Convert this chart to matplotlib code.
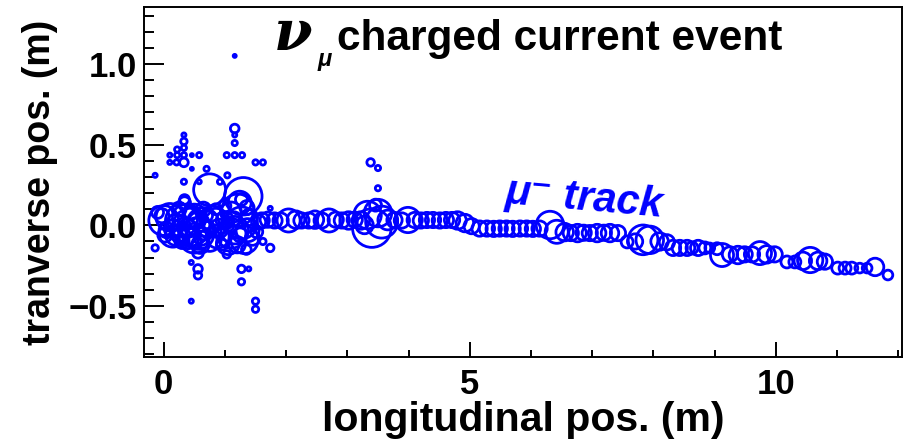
import matplotlib
matplotlib.use('Agg')
import matplotlib.pyplot as plt
import numpy as np
from matplotlib.ticker import MultipleLocator, FuncFormatter

# hits: longitudinal pos (m), transverse pos (m), deposited energy (arb.)
vtx_x = [-0.14, 0.33, 0.33, 0.33, 0.22, 0.10, 0.22, 0.33, 0.46, 0.58,
         0.10, 0.21, 0.33, 0.46, 0.70, 0.33, 0.58, 0.92, 1.04, 1.16,
         1.16, 1.16, 1.03, 1.16, 1.28, 1.50, 1.62, 1.74, 1.16, -0.14,
         0.45, 0.56, 0.56, 0.56, 0.45, 1.03, 1.27, 1.39, 1.27, 1.50,
         1.50, 1.62, 1.74,
         0.75, 1.30, 1.24, 0.00, 0.10, 0.29, 0.45, 0.56, 0.64, 0.34,
         0.75, 1.21, 1.27, 1.16, 1.32, 1.05, 1.37, 1.00, 0.88, -0.10,
         0.34, 1.27, -0.03, 0.34, 0.20, 0.50, 0.80, 0.90, 0.60, 0.15,
         0.40, 1.10, 1.40, 1.45, 0.70, 1.20, 0.50, 1.00, 0.25, 0.65,
         1.36, 0.02, 1.55, 1.52,
         0.05, 0.20, 0.30, 0.45, 0.55, 0.62, 0.38, 0.25, 0.70, 0.85,
         1.15, 1.25, 1.05, 0.95, 1.35,
         0.15, 0.50, 1.10, 0.85, 0.35]
vtx_y = [0.31, 0.56, 0.52, 0.48, 0.47, 0.435, 0.435, 0.435, 0.435, 0.435,
         0.39, 0.39, 0.39, 0.35, 0.35, 0.27, 0.27, 0.27, 0.31, 0.60,
         0.56, 0.51, 0.435, 0.435, 0.435, 0.39, 0.39, 0.105, 1.05, -0.14,
         -0.23, -0.17, -0.27, -0.31, -0.47, -0.18, -0.27, -0.27, -0.35, -0.47,
         -0.52, -0.10, -0.14,
         0.22, 0.18, 0.14, 0.03, 0.05, 0.03, -0.01, -0.05, 0.01, -0.04,
         -0.09, 0.095, 0.015, -0.03, -0.09, -0.11, -0.03, 0.03, -0.07, 0.08,
         0.14, 0.16, 0.06, 0.16, -0.06, 0.06, 0.04, -0.02, -0.12, -0.02,
         -0.08, 0.08, 0.05, -0.08, -0.02, -0.12, -0.10, 0.12, 0.10, 0.10,
         0.11, -0.06, 0.02, -0.04,
         -0.03, 0.02, -0.10, 0.08, 0.03, -0.08, -0.02, -0.05, 0.06, 0.10,
         0.04, -0.06, 0.00, -0.12, -0.15,
         -0.05, -0.08, -0.05, 0.02, 0.05]
vtx_e = [2.5, 2.5, 3.5, 3.0, 3.0, 2.5, 3.0, 3.0, 2.0, 3.0,
         2.5, 3.0, 4.5, 2.0, 3.0, 3.0, 2.5, 3.0, 3.0, 4.5,
         2.5, 3.0, 3.0, 3.0, 3.0, 3.0, 3.0, 2.5, 2.0, 3.5,
         2.5, 5.5, 4.5, 4.0, 2.5, 4.0, 4.0, 2.5, 3.5, 3.5,
         3.5, 3.5, 4.0,
         15.0, 17.5, 11.0, 14.0, 13.0, 15.0, 17.5, 15.0, 15.0, 13.0,
         11.0, 15.0, 15.0, 13.0, 13.0, 11.0, 11.0, 8.5, 11.0, 6.0,
         6.0, 6.0, 7.0, 5.0, 10.0, 11.0, 12.0, 9.0, 8.5, 8.5,
         10.0, 10.0, 8.0, 7.0, 8.0, 8.0, 7.0, 6.0, 7.0, 7.0,
         7.0, 7.0, 7.0, 6.0,
         7.5, 8.0, 7.0, 7.0, 8.0, 7.0, 9.0, 8.0, 6.0, 5.5,
         7.0, 7.0, 6.0, 5.5, 5.0,
         13.0, 14.0, 14.0, 13.0, 12.0]

trk_x = [1.60, 1.70, 1.81, 1.91, 2.04, 2.16, 2.25, 2.37, 2.47, 2.58,
         2.70, 2.81, 2.91, 3.02, 3.12, 3.22,
         3.28, 3.33, 3.40, 3.50, 3.56, 3.46, 3.38, 3.50, 3.50,
         3.66, 3.77, 3.89, 3.99, 4.10, 4.20, 4.30, 4.40, 4.51, 4.61,
         4.71, 4.80, 4.92,
         5.03, 5.16, 5.28, 5.39, 5.49, 5.60, 5.70, 5.82, 5.93, 6.03,
         6.14, 6.31, 6.42, 6.55, 6.65, 6.76, 6.86, 6.96, 7.08, 7.19,
         7.29, 7.42,
         7.57, 7.70, 7.83, 7.94, 8.10, 8.22, 8.32, 8.43, 8.55, 8.63,
         8.73, 8.84, 8.92, 9.04, 9.12, 9.25, 9.38, 9.49, 9.61, 9.74,
         9.85, 9.98, 10.18, 10.31, 10.44, 10.56, 10.69, 10.80, 11.01, 11.13,
         11.24, 11.37, 11.49, 11.62, 11.83]
trk_y = [0.030, 0.035, 0.030, 0.030, 0.030, 0.035, 0.030, 0.030, 0.035, 0.030,
         0.030, 0.035, 0.030, 0.030, 0.035, 0.030,
         0.002, 0.064, -0.017, 0.076, 0.020, 0.125, 0.39, 0.355, 0.23,
         0.033, 0.033, 0.030, 0.033, 0.033, 0.030, 0.033, 0.033, 0.030, 0.033,
         0.033, 0.030, 0.014,
         -0.005, -0.020, -0.020, -0.022, -0.020, -0.020, -0.022, -0.020, -0.020, -0.022,
         -0.020, 0.002, -0.040, -0.042, -0.048, -0.048, -0.046, -0.048, -0.048, -0.046,
         -0.048, -0.048,
         -0.103, -0.100, -0.090, -0.090, -0.100, -0.105, -0.140, -0.140, -0.140, -0.140,
         -0.140, -0.140, -0.140, -0.145, -0.184, -0.180, -0.184, -0.180, -0.180, -0.172,
         -0.180, -0.180, -0.227, -0.227, -0.220, -0.215, -0.220, -0.225, -0.265, -0.265,
         -0.265, -0.265, -0.265, -0.258, -0.308]
trk_e = [7.5, 7.5, 7.5, 7.5, 11, 8.5, 7.5, 7.5, 8.5, 7.5,
         11, 7.5, 7.5, 8.5, 7.5, 8.5,
         8.5, 13, 18, 13, 15, 6, 4, 3, 3,
         9.5, 7.5, 7.5, 12, 7.5, 7.5, 7.5, 7.5, 7.5, 7.5,
         7.5, 8.5, 8.5,
         7.5, 7.5, 7.5, 7.5, 7.5, 7.5, 7.5, 7.5, 7.5, 7.5,
         7.5, 13, 11, 8.5, 7.5, 8.5, 7.5, 7.5, 8.5, 7.5,
         8.5, 7.5,
         6, 7.5, 14, 13, 8.5, 7.5, 7.5, 7.5, 7.5, 6,
         7.5, 6, 5, 6, 11, 7.5, 8.5, 7.5, 7.5, 11,
         8.5, 7.5, 6, 6, 8.5, 12, 8.5, 7.5, 6, 6,
         6, 5, 5, 8.5, 5]

hit_x = np.array(vtx_x + trk_x)
hit_y = np.array(vtx_y + trk_y)
hit_e = np.array(vtx_e + trk_e, dtype=float)

blue = '#0000ff'
plt.rcParams['font.family'] = ['Liberation Sans', 'DejaVu Sans']
plt.rcParams['font.weight'] = 'bold'

fig = plt.figure(figsize=(9.08, 4.44), dpi=100)
ax = fig.add_axes([143.5 / 908, 87 / 444, (902 - 143.5) / 908, (437 - 87) / 444])

# bubble diameter grows with the deposited energy
ms = hit_e * 2 * 0.80 - 1.0
ax.scatter(hit_x, hit_y, s=ms ** 2, facecolors='none', edgecolors=blue,
           linewidths=2.0, zorder=3)

ax.set_xlim(-0.33, 12.06)
ax.set_ylim(-0.816, 1.353)

ax.xaxis.set_major_locator(MultipleLocator(5))
ax.xaxis.set_minor_locator(MultipleLocator(1))
ax.yaxis.set_major_locator(MultipleLocator(0.5))
ax.yaxis.set_minor_locator(MultipleLocator(0.1))
ax.xaxis.set_major_formatter(FuncFormatter(lambda v, p: '%d' % round(v)))
ax.yaxis.set_major_formatter(
    FuncFormatter(lambda v, p: ('%.1f' % v).replace('-', '\u2212')))

ax.tick_params(axis='both', which='both', direction='in', width=1.4,
               top=False, right=False, labelsize=25)
ax.tick_params(axis='x', which='major', length=11, pad=8)
ax.tick_params(axis='x', which='minor', length=5)
ax.tick_params(axis='y', which='major', length=14.5, pad=5)
ax.tick_params(axis='y', which='minor', length=7)
for lab in ax.get_xticklabels() + ax.get_yticklabels():
    lab.set_fontweight('bold')
for sp in ax.spines.values():
    sp.set_linewidth(1.4)

ax.set_xlabel('longitudinal pos. (m)', fontsize=29.5, fontweight='bold', labelpad=0)
ax.set_ylabel('tranverse pos. (m)', fontsize=27, fontweight='bold', labelpad=7)

# event title
fig.text(274 / 908, 1 - 50 / 444, '\u03bd', fontsize=40, style='italic',
         family=['DejaVu Serif'], fontweight='bold',
         ha='left', va='baseline')
fig.text(318 / 908, 1 - 66 / 444, '\u03bc', fontsize=17, style='italic',
         fontweight='bold', ha='left', va='baseline')
fig.text(337 / 908, 1 - 50 / 444, 'charged current event', fontsize=30.5,
         fontweight='bold', ha='left', va='baseline')

ax.text(5.57, 0.14, '\u03bc\u207b track', color=blue, fontsize=30,
        fontweight='bold', style='italic', rotation=-5, rotation_mode='anchor',
        ha='left', va='baseline')

fig.savefig('out.png', dpi=100)
